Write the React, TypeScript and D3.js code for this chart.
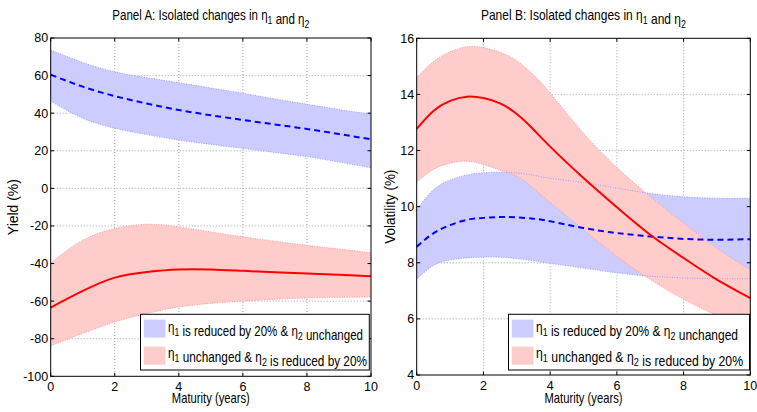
import React, { useLayoutEffect, useRef, useState } from 'react';
import * as d3 from 'd3';

// Panel A: yield (%) against maturity (years)
const maturityA = [0, 1, 2, 3, 4, 5, 6, 7, 8, 9, 10];
const yieldEta1Mean = [60.5, 54.1, 49.1, 45.1, 41.7, 38.9, 36.4, 34.0, 31.6, 28.9, 26.1];
const yieldEta1Upper = [73.6, 67.0, 62.0, 58.9, 56.2, 53.4, 50.6, 47.6, 44.7, 42.0, 39.4];
const yieldEta1Lower = [46.5, 37.3, 32.0, 28.6, 25.7, 23.4, 21.3, 19.1, 16.9, 14.0, 11.0];
const yieldEta2Mean = [-63.4, -54.6, -47.5, -44.5, -43.2, -43.2, -43.9, -44.6, -45.3, -46.0, -46.8];
const yieldEta2Upper = [-39.7, -27.6, -21.4, -19.1, -20.5, -23.2, -25.8, -28.1, -30.3, -32.3, -34.2];
const yieldEta2Lower = [-83.8, -77.2, -71.1, -66.6, -63.1, -61.2, -60.0, -59.0, -58.3, -58.0, -57.8];

// Panel B: volatility (%) against maturity (years)
const maturityB = [0, 0.5, 1, 1.5, 2, 2.5, 3, 3.5, 4, 5, 6, 7, 8, 9, 10];
const volEta1Mean = [8.57, 9.05, 9.34, 9.53, 9.6, 9.63, 9.62, 9.57, 9.48, 9.24, 9.06, 8.94, 8.85, 8.82, 8.84];
const volEta1Upper = [9.89, 10.6, 10.95, 11.13, 11.21, 11.23, 11.2, 11.12, 11.01, 10.86, 10.66, 10.47, 10.35, 10.3, 10.3];
const volEta1Lower = [7.42, 7.9, 8.1, 8.17, 8.2, 8.2, 8.15, 8.07, 7.98, 7.81, 7.64, 7.52, 7.46, 7.43, 7.43];
const volEta2Mean = [12.77, 13.41, 13.77, 13.92, 13.87, 13.68, 13.3, 12.75, 12.14, 11.02, 9.98, 9.0, 8.17, 7.4, 6.74];
const volEta2Upper = [14.6, 15.17, 15.52, 15.7, 15.67, 15.5, 15.2, 14.7, 14.05, 12.62, 11.4, 10.36, 9.41, 8.52, 7.75];
const volEta2Lower = [10.88, 11.32, 11.55, 11.62, 11.5, 11.3, 11.08, 10.66, 10.15, 9.18, 8.23, 7.4, 6.7, 6.12, 5.6];

const xTicks = [0, 2, 4, 6, 8, 10];
const yTicksA = [-100, -80, -60, -40, -20, 0, 20, 40, 60, 80];
const yTicksB = [4, 6, 8, 10, 12, 14, 16];

const legendLabels = [
  { a: ' is reduced by 20% & ', b: ' unchanged', first: true },
  { a: ' unchanged & ', b: '  is reduced by 20%', first: false },
];

const SANS = "'Liberation Sans', Arial, sans-serif";
const BLUE_FILL = '#ccccff';
const PINK_FILL = '#ffcccc';
const BLUE_EDGE = '#9999ff';
const PINK_EDGE = '#ff9999';

type Band = { mean: number[]; upper: number[]; lower: number[] };

const Eta = ({ sub }: { sub: string }) => (
  <>
    <tspan>η</tspan>
    <tspan dy={4} fontSize="0.75em">{sub}</tspan>
    <tspan dy={-4}></tspan>
  </>
);

// text squeezed horizontally to a given width (the original uses a narrow Helvetica)
function FitText(props: {
  x: number; y: number; width: number; fontSize: number;
  anchor?: 'start' | 'middle'; rotate?: number; children: React.ReactNode;
}) {
  const ref = useRef<SVGTextElement>(null);
  const [sx, setSx] = useState(0.85);
  useLayoutEffect(() => {
    if (ref.current) {
      const w = ref.current.getComputedTextLength();
      if (w > 0) setSx(props.width / w);
    }
  }, [props.width]);
  return (
    <text ref={ref} fontFamily={SANS} fontSize={props.fontSize} textAnchor={props.anchor || 'start'}
      transform={`translate(${props.x},${props.y}) rotate(${props.rotate || 0}) scale(${sx},1)`}>
      {props.children}
    </text>
  );
}

function Panel(props: {
  left: number; right: number; top: number; bottom: number;
  title: string; titleLen: number; ylabel: string; ylabelX: number; ylabelLen: number;
  yDomain: [number, number]; yTicks: number[];
  xs: number[]; blue: Band; red: Band;
  legendLeft: number; legendRight: number; legendLens: number[];
}) {
  const { left, right, top, bottom, xs, blue, red } = props;
  const x = d3.scaleLinear().domain([0, 10]).range([left, right]);
  const y = d3.scaleLinear().domain(props.yDomain).range([bottom, top]);
  const curve = d3.curveNatural;
  const area = d3.area<number>().x((_, i) => x(xs[i])).curve(curve);
  const line = d3.line<number>().x((_, i) => x(xs[i])).y((d) => y(d)).curve(curve);
  const bandPath = (b: Band) =>
    area.y0((_, i) => y(b.lower[i])).y1((d) => y(d))(b.upper) || '';
  const tick = 3.5;
  const cx = (left + right) / 2;
  const cy = (top + bottom) / 2;
  const lgTop = 314.3;
  const lgBottom = 370;

  return (
    <g>
      <FitText x={cx} y={20} width={props.titleLen} fontSize={15} anchor="middle">
        Panel {props.title}: Isolated changes in <Eta sub="1" /> and <Eta sub="2" />
      </FitText>

      {/* grid */}
      <g stroke="#8c8c8c" strokeWidth={0.8} strokeDasharray="1,2">
        {xTicks.slice(1, -1).map((t) => (
          <line key={'gx' + t} x1={x(t)} x2={x(t)} y1={top} y2={bottom} />
        ))}
        {props.yTicks.slice(1, -1).map((t) => (
          <line key={'gy' + t} x1={left} x2={right} y1={y(t)} y2={y(t)} />
        ))}
      </g>

      {/* bands */}
      <path d={bandPath(blue)} fill={BLUE_FILL} />
      <path d={bandPath(red)} fill={PINK_FILL} />
      <g fill="none" strokeWidth={1} strokeDasharray="1,1.5">
        <path d={line(blue.upper) || ''} stroke={BLUE_EDGE} />
        <path d={line(blue.lower) || ''} stroke={BLUE_EDGE} />
        <path d={line(red.upper) || ''} stroke={PINK_EDGE} />
        <path d={line(red.lower) || ''} stroke={PINK_EDGE} />
      </g>

      {/* means */}
      <path d={line(blue.mean) || ''} fill="none" stroke="#0000ff" strokeWidth={2} strokeDasharray="6,4" />
      <path d={line(red.mean) || ''} fill="none" stroke="#ff0000" strokeWidth={2} />

      {/* axes box and ticks */}
      <rect x={left} y={top} width={right - left} height={bottom - top} fill="none" stroke="#000" strokeWidth={1} />
      <g stroke="#000" strokeWidth={1}>
        {xTicks.map((t) => (
          <g key={'tx' + t}>
            <line x1={x(t)} x2={x(t)} y1={bottom} y2={bottom - tick} />
            <line x1={x(t)} x2={x(t)} y1={top} y2={top + tick} />
          </g>
        ))}
        {props.yTicks.map((t) => (
          <g key={'ty' + t}>
            <line x1={left} x2={left + tick} y1={y(t)} y2={y(t)} />
            <line x1={right} x2={right - tick} y1={y(t)} y2={y(t)} />
          </g>
        ))}
      </g>
      <g fontFamily={SANS} fontSize={12.5}>
        {xTicks.map((t) => (
          <text key={'lx' + t} x={x(t)} y={bottom + 15} textAnchor="middle">{t}</text>
        ))}
        {props.yTicks.map((t) => (
          <text key={'ly' + t} x={left - 2.5} y={y(t) + 4.4} textAnchor="end">{t}</text>
        ))}
      </g>
      <FitText x={cx} y={403} width={78} fontSize={14} anchor="middle">Maturity (years)</FitText>
      <FitText x={props.ylabelX} y={cy} width={props.ylabelLen} fontSize={14} anchor="middle" rotate={-90}>
        {props.ylabel}
      </FitText>

      {/* legend */}
      <rect x={props.legendLeft} y={lgTop} width={props.legendRight - props.legendLeft} height={lgBottom - lgTop}
        fill="#fff" stroke="#000" strokeWidth={1} />
      {legendLabels.map((l, i) => (
        <g key={'lg' + i}>
          <rect x={props.legendLeft + 3.3} y={lgTop + 5.3 + i * 27} width={21.7} height={18}
            fill={l.first ? BLUE_FILL : PINK_FILL} />
          <FitText x={props.legendLeft + 27.5} y={lgTop + 17.5 + i * 26} width={props.legendLens[i]} fontSize={15}>
            <Eta sub="1" />{l.a}<Eta sub="2" />{l.b}
          </FitText>
        </g>
      ))}
    </g>
  );
}

export default function App() {
  return (
    <svg width={757} height={412} style={{ position: 'absolute', left: 0, top: 0, background: '#fff' }}>
      <Panel left={50.7} right={371} top={38} bottom={376.3}
        title="A" titleLen={197} ylabel="Yield (%)" ylabelX={17.5} ylabelLen={56}
        yDomain={[-100, 80]} yTicks={yTicksA} xs={maturityA}
        blue={{ mean: yieldEta1Mean, upper: yieldEta1Upper, lower: yieldEta1Lower }}
        red={{ mean: yieldEta2Mean, upper: yieldEta2Upper, lower: yieldEta2Lower }}
        legendLeft={140.5} legendRight={369.3} legendLens={[195, 199]} />
      <Panel left={416.7} right={750.3} top={38.3} bottom={375}
        title="B" titleLen={205} ylabel="Volatility (%)" ylabelX={395} ylabelLen={74}
        yDomain={[4, 16]} yTicks={yTicksB} xs={maturityB}
        blue={{ mean: volEta1Mean, upper: volEta1Upper, lower: volEta1Lower }}
        red={{ mean: volEta2Mean, upper: volEta2Upper, lower: volEta2Lower }}
        legendLeft={508.5} legendRight={749.5} legendLens={[202, 207]} />
    </svg>
  );
}
